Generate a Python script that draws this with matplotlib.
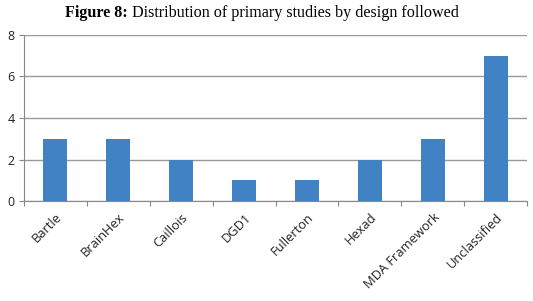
import matplotlib.pyplot as plt

# design frameworks and number of primary studies
categories = ["Bartle", "BrainHex", "Caillois", "DGD1", "Fullerton",
              "Hexad", "MDA Framework", "Unclassified"]
counts = [3, 3, 2, 1, 1, 2, 3, 7]
y_ticks = [0, 2, 4, 6, 8]

fig = plt.figure(figsize=(5.33, 3.01), dpi=100)
ax = fig.add_axes([0.045, 0.332, 0.944, 0.552])

x = range(len(categories))
ax.bar(x, counts, width=0.38, color="#4082C4", zorder=3)

ax.set_xlim(-0.5, len(categories) - 0.5)
ax.set_ylim(0, 8)
ax.set_yticks(y_ticks)
ax.set_yticklabels([str(v) for v in y_ticks], fontsize=9,
                   family="Open Sans", color="#222222")
ax.set_xticks([i - 0.5 for i in range(len(categories) + 1)], minor=False)
ax.set_xticklabels([])
ax.set_xticks(list(x), minor=True)
ax.set_xticklabels(categories, minor=True, rotation=45, ha="right",
                   rotation_mode="anchor", fontsize=9.3, family="Open Sans",
                   color="#222222")
ax.tick_params(axis="x", which="minor", length=0, pad=7)
ax.tick_params(axis="x", which="major", length=3.5, color="#888888")
ax.tick_params(axis="y", length=3.5, color="#888888", pad=3)

ax.grid(axis="y", color="#999999", linewidth=1.0, zorder=0)
for side in ["top", "right"]:
    ax.spines[side].set_visible(False)
for side in ["left", "bottom"]:
    ax.spines[side].set_color("#888888")

t1 = fig.text(0.122, 0.945, "Figure 8:", family="Liberation Serif",
              weight="bold", fontsize=11.6, ha="left", va="baseline")
t2 = fig.text(0, 0.945, " Distribution of primary studies by design followed",
              family="Liberation Serif", fontsize=11.6, ha="left",
              va="baseline")
fig.canvas.draw()
bb = t1.get_window_extent()
t2.set_x(fig.transFigure.inverted().transform((bb.x1, 0))[0])

fig.savefig("out.png", dpi=100)
